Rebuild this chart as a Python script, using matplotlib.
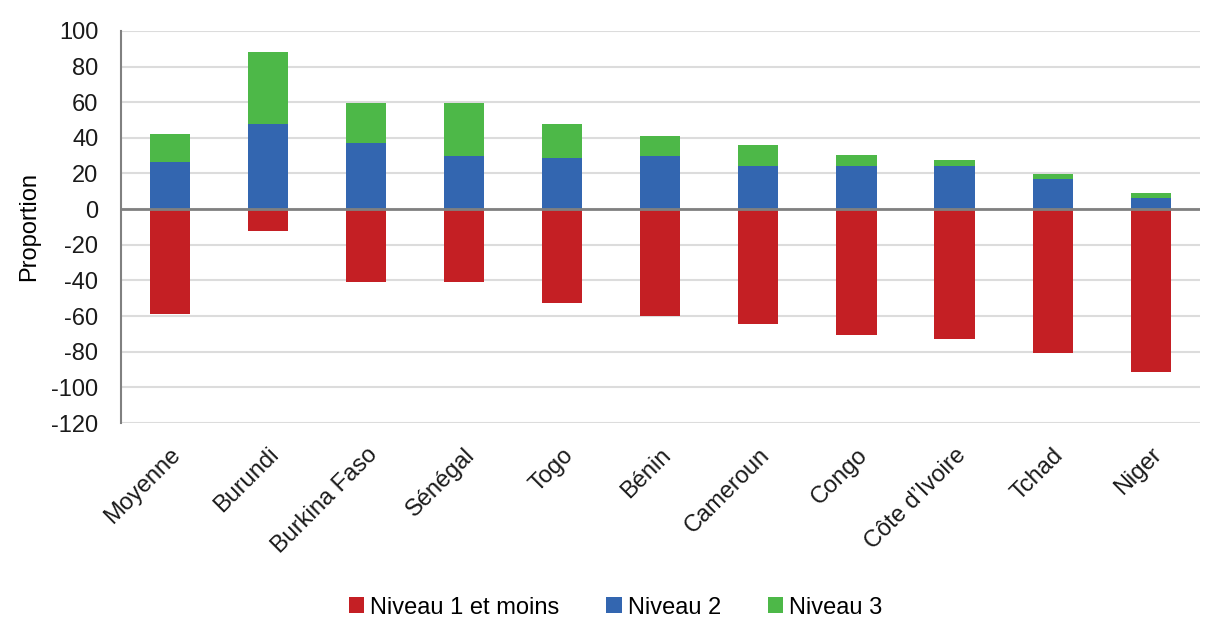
import matplotlib.pyplot as plt
import numpy as np

plt.rcParams['font.family'] = ['Liberation Sans', 'DejaVu Sans']
plt.rcParams['axes.unicode_minus'] = False

pays = ['Moyenne', 'Burundi', 'Burkina Faso', 'Sénégal', 'Togo', 'Bénin',
        'Cameroun', 'Congo', 'Côte d\u2019Ivoire', 'Tchad', 'Niger']
niveau1 = [-58.7, -12.3, -41.0, -41.0, -52.8, -59.9, -64.4, -70.4, -72.8, -81.0, -91.5]
niveau2 = [26.4, 47.7, 37.1, 30.0, 28.9, 30.0, 24.1, 24.1, 24.1, 16.8, 6.2]
niveau3 = [15.5, 40.3, 22.6, 29.7, 19.0, 10.8, 11.8, 6.1, 3.6, 2.7, 2.6]

rouge = '#C41F24'
bleu = '#3366B0'
vert = '#4DB848'

fig = plt.figure(figsize=(12.07, 6.17), dpi=100)
ax = fig.add_axes([0.1, 0.3144, 0.894, 0.6356])

x = np.arange(len(pays))
w = 0.41
ax.bar(x, niveau1, w, color=rouge, label='Niveau 1 et moins', zorder=3)
ax.bar(x, niveau2, w, color=bleu, label='Niveau 2', zorder=3)
ax.bar(x, niveau3, w, bottom=niveau2, color=vert, label='Niveau 3', zorder=3)

ax.axhline(0, color='#808080', lw=2, zorder=4)
ax.set_ylim(-120, 100)
ax.set_xlim(-0.5, len(pays) - 0.5)
ax.set_yticks(np.arange(-120, 101, 20))
ax.yaxis.grid(True, color='#dcdcdc', lw=1.5, zorder=0)
ax.set_axisbelow(True)

for s in ['top', 'right', 'bottom']:
    ax.spines[s].set_visible(False)
ax.spines['left'].set_color('#808080')
ax.spines['left'].set_linewidth(1.5)

ax.tick_params(axis='both', length=0, labelsize=17, colors='#1a1a1a')
ax.tick_params(axis='y', pad=16)
ax.set_xticks(x)
ax.set_xticklabels(pays, rotation=45, ha='right', rotation_mode='anchor')
ax.tick_params(axis='x', pad=15)
ax.set_ylabel('Proportion', fontsize=17, labelpad=8)

fig.legend(loc='lower center', bbox_to_anchor=(0.51, -0.037), ncol=3, frameon=False,
           fontsize=17, handlelength=0.65, handleheight=0.65, handletextpad=0.25,
           columnspacing=2.0)

fig.savefig('out.png', dpi=100)
